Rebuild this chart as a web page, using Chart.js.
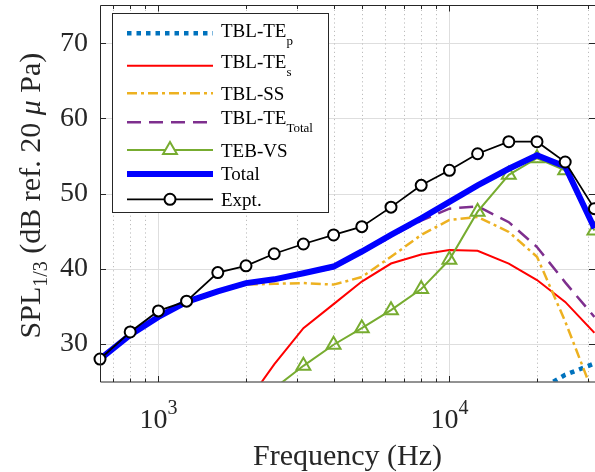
<!DOCTYPE html>
<html>
<head>
<meta charset="utf-8">
<script src="https://cdn.jsdelivr.net/npm/chart.js@4/dist/chart.umd.min.js"></script>
<style>
  html, body { margin: 0; padding: 0; background: #ffffff; }
  #wrap { width: 595px; height: 472px; position: relative; }
</style>
</head>
<body>
<div id="wrap"><canvas id="c" width="595" height="472"></canvas></div>
<script>
// ---- data (1/3-octave band centre frequencies, Hz) ----
const freqs = [630, 800, 1000, 1250, 1600, 2000, 2500, 3150, 4000, 5000, 6300, 8000, 10000, 12500, 16000, 20000, 25000, 31500];
const tblTEp = [null, null, null, null, null, null, null, null, null, null, null, null, null, null, null, 23.7, 25.9, 27.4];
const tblTEs = [null, null, null, null, null, 22.0, 27.3, 32.1, 35.3, 38.3, 40.7, 41.9, 42.5, 42.4, 40.7, 38.5, 35.6, 31.5];
const tblSS = [27.9, 31.1, 33.5, 35.5, 36.9, 37.9, 38.0, 38.1, 37.9, 38.9, 41.6, 44.5, 46.5, 46.9, 44.9, 41.6, 33.0, 23.0];
const tblTEtotal = [27.8, 31.1, 33.5, 35.5, 36.9, 38.0, 38.5, 39.3, 40.1, 42.1, 44.3, 46.4, 48.0, 48.3, 46.2, 42.9, 38.2, 33.6];
const tebVS = [null, null, null, null, null, null, 24.1, 27.1, 29.9, 32.1, 34.5, 37.3, 41.2, 47.6, 52.5, 54.7, 53.1, 45.1];
const totalSPL = [28.0, 31.2, 33.6, 35.6, 37.0, 38.1, 38.6, 39.4, 40.3, 42.3, 44.5, 46.7, 48.9, 51.1, 53.3, 55.1, 53.6, 45.4];
const expt = [28.0, 31.6, 34.4, 35.7, 39.5, 40.4, 42.0, 43.3, 44.5, 45.6, 48.2, 51.1, 53.1, 55.3, 56.9, 56.9, 54.2, 48.0];

const yTicks = [30, 40, 50, 60, 70];
const xMajor = [1000, 10000];
const xMinor = [700, 800, 900, 2000, 3000, 4000, 5000, 6000, 7000, 8000, 9000, 20000, 30000];
const xLabels = [{v: 1000, base: '10', exp: '3'}, {v: 10000, base: '10', exp: '4'}];

const legendItems = [
  {key: 'p',  main: 'TBL-TE', sub: 'p'},
  {key: 's',  main: 'TBL-TE', sub: 's'},
  {key: 'ss', main: 'TBL-SS', sub: ''},
  {key: 'tt', main: 'TBL-TE', sub: 'Total'},
  {key: 'vs', main: 'TEB-VS', sub: ''},
  {key: 'to', main: 'Total',  sub: ''},
  {key: 'ex', main: 'Expt.',  sub: ''}
];

const SERIF = "'Liberation Serif', 'Times New Roman', serif";
const TXT = '#262626';

const pts = arr => freqs.map((f, i) => ({x: f, y: arr[i]}));

const styles = {
  p:  {color: '#0072BD', width: 4.5, dash: [4.5, 5]},
  s:  {color: '#FF0000', width: 2, dash: []},
  ss: {color: '#EDB120', width: 2.5, dash: [10, 4, 3, 4]},
  tt: {color: '#7E2F8E', width: 2.5, dash: [14, 8]},
  vs: {color: '#77AC30', width: 2, dash: []},
  to: {color: '#0000FF', width: 6, dash: []},
  ex: {color: '#000000', width: 1.8, dash: []}
};

const datasets = [
  {label: 'TBL-TE_p', data: pts(tblTEp), borderColor: styles.p.color, borderWidth: styles.p.width, borderDash: styles.p.dash, pointRadius: 0, clip: 0, order: 6},
  {label: 'TBL-TE_s', data: pts(tblTEs), borderColor: styles.s.color, borderWidth: styles.s.width, pointRadius: 0, clip: 0, order: 5},
  {label: 'TBL-SS', data: pts(tblSS), borderColor: styles.ss.color, borderWidth: styles.ss.width, borderDash: styles.ss.dash, pointRadius: 0, clip: 0, order: 4},
  {label: 'TBL-TE_Total', data: pts(tblTEtotal), borderColor: styles.tt.color, borderWidth: styles.tt.width, borderDash: styles.tt.dash, pointRadius: 0, clip: 0, order: 3},
  {label: 'TEB-VS', data: pts(tebVS), borderColor: styles.vs.color, borderWidth: styles.vs.width,
   pointStyle: 'triangle', pointRadius: ctx => (ctx.raw && ctx.raw.y !== null && ctx.raw.y >= 25) ? 8 : 0,
   pointBorderWidth: 2, pointBorderColor: styles.vs.color, pointBackgroundColor: 'rgba(0,0,0,0)', clip: 0, order: 2},
  {label: 'Total', data: pts(totalSPL), borderColor: styles.to.color, borderWidth: styles.to.width, pointRadius: 0, clip: {left: 0, top: 0, bottom: 0, right: 10}, order: 1},
  {label: 'Expt.', data: pts(expt), borderColor: styles.ex.color, borderWidth: styles.ex.width,
   pointStyle: 'circle', pointRadius: 5.5, pointBorderWidth: 2, pointBorderColor: '#000000', pointBackgroundColor: '#ffffff', clip: 10, order: 0}
];

function drawLegendSample(ctx, key, x1, x2, y) {
  const st = styles[key];
  ctx.save();
  ctx.strokeStyle = st.color;
  ctx.lineWidth = st.width;
  ctx.setLineDash(st.dash);
  ctx.beginPath();
  ctx.moveTo(x1, y); ctx.lineTo(x2, y);
  ctx.stroke();
  ctx.setLineDash([]);
  const cx = (x1 + x2) / 2;
  if (key === 'vs') {
    const r = 8;
    ctx.lineWidth = 2;
    ctx.beginPath();
    ctx.moveTo(cx, y - r);
    ctx.lineTo(cx + r * Math.sin(2 * Math.PI / 3), y - r * Math.cos(2 * Math.PI / 3));
    ctx.lineTo(cx + r * Math.sin(4 * Math.PI / 3), y - r * Math.cos(4 * Math.PI / 3));
    ctx.closePath();
    ctx.fillStyle = '#ffffff';
    ctx.fill();
    ctx.stroke();
  } else if (key === 'ex') {
    ctx.lineWidth = 2;
    ctx.fillStyle = '#ffffff';
    ctx.beginPath();
    ctx.arc(cx, y, 5.5, 0, Math.PI * 2);
    ctx.fill();
    ctx.stroke();
  }
  ctx.restore();
}

const framePlugin = {
  id: 'frame',
  beforeDatasetsDraw(chart) {
    const {ctx, chartArea: a, scales: {x, y}} = chart;
    ctx.save();
    // major grid
    ctx.strokeStyle = '#DEDEDE';
    ctx.lineWidth = 1;
    ctx.setLineDash([]);
    ctx.beginPath();
    xMajor.forEach(v => { const px = Math.round(x.getPixelForValue(v)) + 0.5; ctx.moveTo(px, a.top); ctx.lineTo(px, a.bottom); });
    yTicks.forEach(v => { const py = Math.round(y.getPixelForValue(v)) + 0.5; ctx.moveTo(a.left, py); ctx.lineTo(a.right, py); });
    ctx.stroke();
    // minor grid (dotted)
    ctx.strokeStyle = '#BDBDBD';
    ctx.setLineDash([1.2, 3]);
    ctx.beginPath();
    xMinor.forEach(v => { const px = Math.round(x.getPixelForValue(v)) + 0.5; ctx.moveTo(px, a.top); ctx.lineTo(px, a.bottom); });
    ctx.stroke();
    ctx.restore();
  },
  afterDraw(chart) {
    const {ctx, chartArea: a, scales: {x, y}} = chart;
    ctx.save();
    ctx.strokeStyle = TXT;
    ctx.lineWidth = 1;
    ctx.setLineDash([]);
    // frame
    ctx.beginPath();
    ctx.rect(Math.round(a.left) + 0.5, Math.round(a.top) - 0.5, Math.round(a.right) - Math.round(a.left), Math.round(a.bottom) - Math.round(a.top) + 0.5);
    ctx.stroke();
    // tick marks (inward)
    ctx.beginPath();
    const b = Math.round(a.bottom), t = Math.round(a.top) - 0.5;
    xMajor.forEach(v => { const px = Math.round(x.getPixelForValue(v)) + 0.5; ctx.moveTo(px, b); ctx.lineTo(px, b - 6); ctx.moveTo(px, t); ctx.lineTo(px, t + 6); });
    xMinor.forEach(v => { const px = Math.round(x.getPixelForValue(v)) + 0.5; ctx.moveTo(px, b); ctx.lineTo(px, b - 3.5); ctx.moveTo(px, t); ctx.lineTo(px, t + 3.5); });
    yTicks.forEach(v => { const py = Math.round(y.getPixelForValue(v)) + 0.5; ctx.moveTo(a.left, py); ctx.lineTo(a.left + 6, py); ctx.moveTo(a.right, py); ctx.lineTo(a.right - 6, py); });
    ctx.stroke();

    // x tick labels with superscripts
    ctx.fillStyle = TXT;
    ctx.textBaseline = 'alphabetic';
    ctx.textAlign = 'left';
    xLabels.forEach(l => {
      const px = x.getPixelForValue(l.v);
      ctx.font = '28px ' + SERIF;
      const wb = ctx.measureText(l.base).width;
      ctx.font = '20px ' + SERIF;
      const we = ctx.measureText(l.exp).width;
      const x0 = px - (wb + we) / 2;
      ctx.font = '28px ' + SERIF;
      ctx.fillText(l.base, x0, 427.5);
      ctx.font = '20px ' + SERIF;
      ctx.fillText(l.exp, x0 + wb, 414);
    });

    // x title
    ctx.font = '30px ' + SERIF;
    ctx.textAlign = 'center';
    ctx.fillText('Frequency (Hz)', (a.left + a.right) / 2, 465);

    // y title (rotated, with subscript and italic mu)
    const segs = [
      {t: 'SPL', f: '30px ' + SERIF, dy: 0},
      {t: '1/3', f: '20px ' + SERIF, dy: 7},
      {t: ' (dB ref. 20 ', f: '30px ' + SERIF, dy: 0},
      {t: 'μ', f: 'italic 30px ' + SERIF, dy: 0},
      {t: ' Pa)', f: '30px ' + SERIF, dy: 0}
    ];
    let total = 0;
    segs.forEach(s => { ctx.font = s.f; s.w = ctx.measureText(s.t).width; total += s.w; });
    ctx.save();
    ctx.translate(40, (a.top + a.bottom) / 2 + 2);
    ctx.rotate(-Math.PI / 2);
    ctx.textAlign = 'left';
    let cx = -total / 2;
    segs.forEach(s => { ctx.font = s.f; ctx.fillText(s.t, cx, s.dy); cx += s.w; });
    ctx.restore();

    // legend
    const L = {x1: 112, y1: 13.5, x2: 328, y2: 212.5};
    ctx.fillStyle = '#ffffff';
    ctx.fillRect(L.x1, L.y1, L.x2 - L.x1, L.y2 - L.y1);
    ctx.strokeStyle = TXT;
    ctx.lineWidth = 1;
    ctx.strokeRect(L.x1 + 0.5, L.y1, L.x2 - L.x1, L.y2 - L.y1);
    const rowLine = [33.3, 65.7, 93.3, 122.3, 150, 174, 199.3];
    const rowBase = [37.3, 68.3, 100, 124, 156.7, 180, 206];
    legendItems.forEach((it, i) => {
      drawLegendSample(ctx, it.key, 127, 213, rowLine[i]);
      ctx.fillStyle = '#000000';
      ctx.textAlign = 'left';
      ctx.font = '19px ' + SERIF;
      ctx.fillText(it.main, 221, rowBase[i]);
      if (it.sub) {
        const w = ctx.measureText(it.main).width;
        ctx.font = '13px ' + SERIF;
        ctx.fillText(it.sub, 221 + w, rowBase[i] + 7.7);
      }
    });
    ctx.restore();
  }
};

new Chart(document.getElementById('c'), {
  type: 'line',
  data: {datasets},
  options: {
    responsive: false,
    animation: false,
    layout: {autoPadding: false, padding: {top: 5.6, left: 0, right: 0, bottom: 0}},
    elements: {line: {tension: 0, fill: false}},
    plugins: {legend: {display: false}, tooltip: {enabled: false}, title: {display: false}},
    scales: {
      x: {
        type: 'logarithmic', min: 630, max: 31650,
        grid: {display: false}, border: {display: false},
        ticks: {display: false},
        afterFit: s => { s.height = 90.4; s.paddingLeft = 0; s.paddingRight = 0; }
      },
      y: {
        type: 'linear', min: 25, max: 75,
        grid: {display: false, drawTicks: false}, border: {display: false},
        afterBuildTicks: s => { s.ticks = yTicks.map(v => ({value: v})); },
        ticks: {color: TXT, padding: 12, font: {family: SERIF, size: 28}},
        afterFit: s => { s.width = 100; s.paddingTop = 0; s.paddingBottom = 0; }
      }
    }
  },
  plugins: [framePlugin]
});
</script>
</body>
</html>
